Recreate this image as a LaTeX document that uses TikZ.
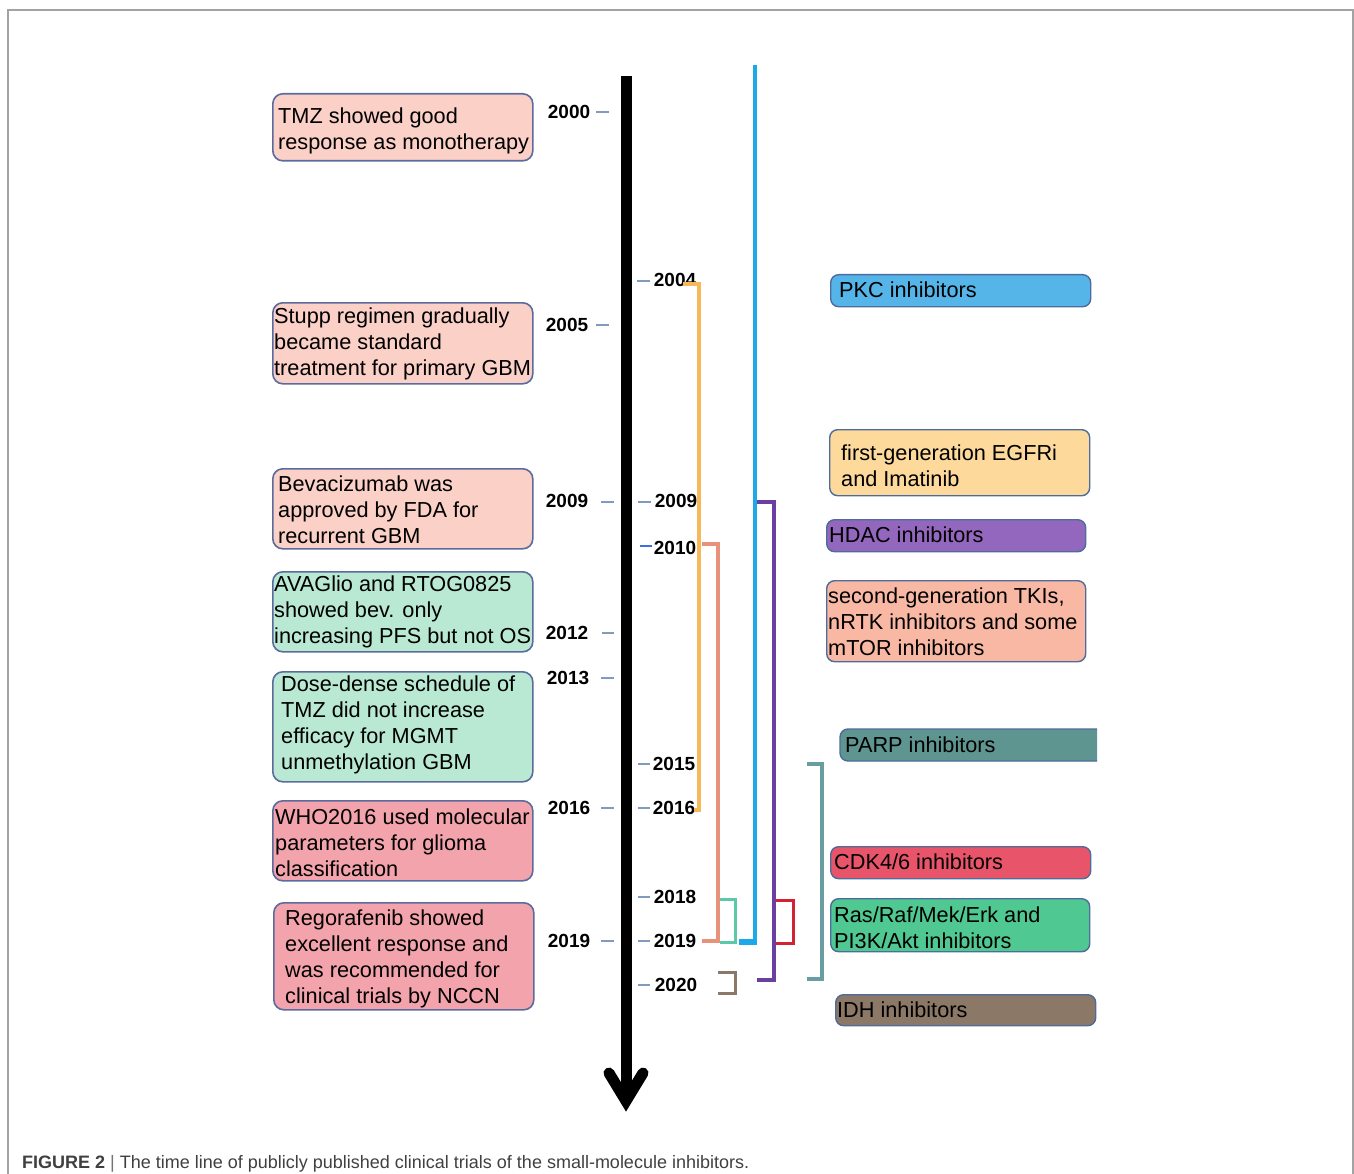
\documentclass[tikz,border=0pt]{standalone}
\usepackage{fontspec}
\setmainfont{Liberation Sans}
\definecolor{frameg}{HTML}{A3A3A3}
\definecolor{pinkA}{HTML}{FAD0C7}
\definecolor{mintA}{HTML}{B9E8D3}
\definecolor{pinkB}{HTML}{F3A3AC}
\definecolor{lboxline}{HTML}{5B6B9D}
\definecolor{rboxline}{HTML}{4D6C9C}
\definecolor{pkcc}{HTML}{56B5E8}
\definecolor{egfrc}{HTML}{FDD99B}
\definecolor{hdacc}{HTML}{9467BE}
\definecolor{secc}{HTML}{F8B8A4}
\definecolor{parpc}{HTML}{5F9591}
\definecolor{cdkc}{HTML}{E8556A}
\definecolor{rasc}{HTML}{50C891}
\definecolor{idhc}{HTML}{8B7867}
\definecolor{tickc}{HTML}{7F9CC0}
\definecolor{tickb}{HTML}{3D6FE0}
\definecolor{orangeL}{HTML}{F6B858}
\definecolor{salmonL}{HTML}{E8917B}
\definecolor{tealL}{HTML}{5CC8A8}
\definecolor{blueL}{HTML}{1DA8E8}
\definecolor{purpleL}{HTML}{6B3FA0}
\definecolor{redL}{HTML}{D42235}
\definecolor{brownL}{HTML}{8C7868}
\definecolor{slateL}{HTML}{6A9DA2}
\begin{document}
\begin{tikzpicture}[x=1pt,y=-1pt,
  lbox/.style={draw=lboxline, line width=1.6pt, rounded corners=10pt, anchor=north west, inner sep=0pt},
  rbox/.style={draw=rboxline, line width=1.4pt, rounded corners=8pt, anchor=north west, inner sep=0pt},
  btext/.style={anchor=west, align=left, inner sep=0pt, font=\fontsize{21.7}{26}\selectfont},
  yr/.style={font=\bfseries\fontsize{19}{22}\selectfont, inner sep=0pt},
  yeartick/.style={draw=tickc, line width=1.3pt},
  brk/.style={line width=3.5pt, line join=miter}]
\useasboundingbox (0,0) rectangle (1354,1174);
% frame
\draw[frameg, line width=1.5pt] (8,1174) -- (8,10) -- (1353,10) -- (1353,1174);

% main axis
\coordinate (axtop) at (626,76);
\coordinate (axbot) at (626,1098);
\draw[black, line width=11pt] (axtop) -- (axbot);
\draw[black, line width=11pt, line cap=round, line join=miter] (609,1073) -- (626,1101) -- (643,1073);

% left boxes
\node[lbox, fill=pinkA, minimum width=260pt, minimum height=67pt] (b1) at (272,93) {};
\node[lbox, fill=pinkA, minimum width=260pt, minimum height=81pt] (b2) at (272,302) {};
\node[lbox, fill=pinkA, minimum width=260pt, minimum height=80pt] (b3) at (272,468) {};
\node[lbox, fill=mintA, minimum width=260pt, minimum height=80pt] (b4) at (272,571) {};
\node[lbox, fill=mintA, minimum width=260pt, minimum height=110pt] (b5) at (272,671) {};
\node[lbox, fill=pinkB, minimum width=260pt, minimum height=80pt] (b6) at (272,800) {};
\node[lbox, fill=pinkB, minimum width=260pt, minimum height=107pt] (b7) at (273,902) {};

\node[btext] (t1) at (278,131) {TMZ showed good\\response as monotherapy};
\node[btext] (t2) at (274,344) {Stupp regimen gradually\\became standard\\treatment for primary GBM};
\node[btext] (t3) at (278,510) {Bevacizumab was\\approved by FDA for\\recurrent GBM};
\node[btext] (t4) at (274,612) {AVAGlio and RTOG0825\\showed bev. only\\increasing PFS but not OS};
\node[btext] (t5) at (281,725) {Dose-dense schedule of\\TMZ did not increase\\efficacy for MGMT\\unmethylation GBM};
\node[btext] (t6) at (275,843) {WHO2016 used molecular\\parameters for glioma\\classification};
\node[btext] (t7) at (285,959) {Regorafenib showed\\excellent response and\\was recommended for\\clinical trials by NCCN};

% right boxes
\node[rbox, fill=pkcc, minimum width=260pt, minimum height=32pt] (r1) at (830,274) {};
\node[rbox, fill=egfrc, minimum width=260pt, minimum height=66pt] (r2) at (829,429) {};
\node[rbox, fill=hdacc, minimum width=259pt, minimum height=32pt] (r3) at (826,519) {};
\node[rbox, fill=secc, minimum width=259pt, minimum height=81pt] (r4) at (826,580) {};
\filldraw[draw=rboxline, fill=parpc, line width=1.4pt, rounded corners=8pt] (1097,729) -- (840,729) -- (840,761) -- (1097,761);
\node[rbox, fill=cdkc, minimum width=260pt, minimum height=32pt] (r6) at (830,846) {};
\node[rbox, fill=rasc, minimum width=259pt, minimum height=53pt] (r7) at (830,898) {};
\node[rbox, fill=idhc, minimum width=260pt, minimum height=31pt] (r8) at (835,994) {};

\node[btext] (s1) at (839,290) {PKC inhibitors};
\node[btext] (s2) at (841,466) {first-generation EGFRi\\and Imatinib};
\node[btext] (s3) at (829,535) {HDAC inhibitors};
\node[btext] (s4) at (828,622) {second-generation TKIs,\\nRTK inhibitors and some\\mTOR inhibitors};
\node[btext] (s5) at (845,745) {PARP inhibitors};
\node[btext] (s6) at (834,862) {CDK4/6 inhibitors};
\node[btext] (s7) at (834,928) {Ras/Raf/Mek/Erk and\\PI3K/Akt inhibitors};
\node[btext] (s8) at (837,1010) {IDH inhibitors};

% left year labels and ticks
\node[yr] (y2000) at (569,112) {2000};
\node[yr] (y2005) at (567,325) {2005};
\node[yr] (y2009) at (567,501) {2009};
\node[yr] (y2012) at (567,633) {2012};
\node[yr] (y2013) at (568,678) {2013};
\node[yr] (y2016) at (569,808) {2016};
\node[yr] (y2019) at (569,941) {2019};
\draw[yeartick] (596,112) -- (609,112);
\draw[yeartick] (596,325) -- (609,325);
\draw[yeartick] (601,502) -- (614,502);
\draw[yeartick] (602,633) -- (614,633);
\draw[yeartick] (601,678) -- (614,678);
\draw[yeartick] (601,808) -- (614,808);
\draw[yeartick] (601,941) -- (614,941);

% right year labels and ticks
\node[yr] (z2004) at (675,280) {2004};
\node[yr] (z2009) at (676,501) {2009};
\node[yr] (z2010) at (675,548) {2010};
\node[yr] (z2015) at (674,764) {2015};
\node[yr] (z2016) at (674,808) {2016};
\node[yr] (z2018) at (675,897) {2018};
\node[yr] (z2019) at (675,941) {2019};
\node[yr] (z2020) at (676,985) {2020};
\draw[yeartick] (637,281) -- (650,281);
\draw[yeartick] (638,502) -- (651,502);
\draw[draw=tickb, line width=1.3pt] (640,546) -- (652,546);
\draw[yeartick] (638,764) -- (650,764);
\draw[yeartick] (638,808) -- (650,808);
\draw[yeartick] (638,897) -- (650,897);
\draw[yeartick] (638,941) -- (650,941);
\draw[yeartick] (638,985) -- (650,985);

% brackets
\draw[brk, orangeL] (683,284) -- (699,284) -- (699,810) -- (694,810);
\draw[brk, salmonL] (702,544) -- (718,544) -- (718,941);
\draw[salmonL, line width=4.5pt] (702,941) -- (719.7,941);
\draw[brk, tealL, line width=3pt] (720,899) -- (735,899) -- (735,942) -- (720,942);
\draw[blueL, line width=4pt] (755,65) -- (755,944);
\draw[blueL, line width=6pt] (739,942) -- (757,942);
\draw[brk, purpleL] (757,502) -- (774,502) -- (774,980) -- (757,980);
\draw[brk, redL, line width=3pt] (776,900) -- (793,900) -- (793,943) -- (776,943);
\draw[brk, brownL, line width=3pt] (718,972) -- (735,972) -- (735,993) -- (718,993);
\draw[brk, slateL] (807,764) -- (822,764) -- (822,979) -- (807,979);

% caption
\node[anchor=base west, inner sep=0pt, font=\fontsize{18}{20}\selectfont, text=black!75] (cap) at (22,1168)
  {\textbf{FIGURE 2} {\color{black!55}|} The time line of publicly published clinical trials of the small-molecule inhibitors.};
\end{tikzpicture}
\end{document}
